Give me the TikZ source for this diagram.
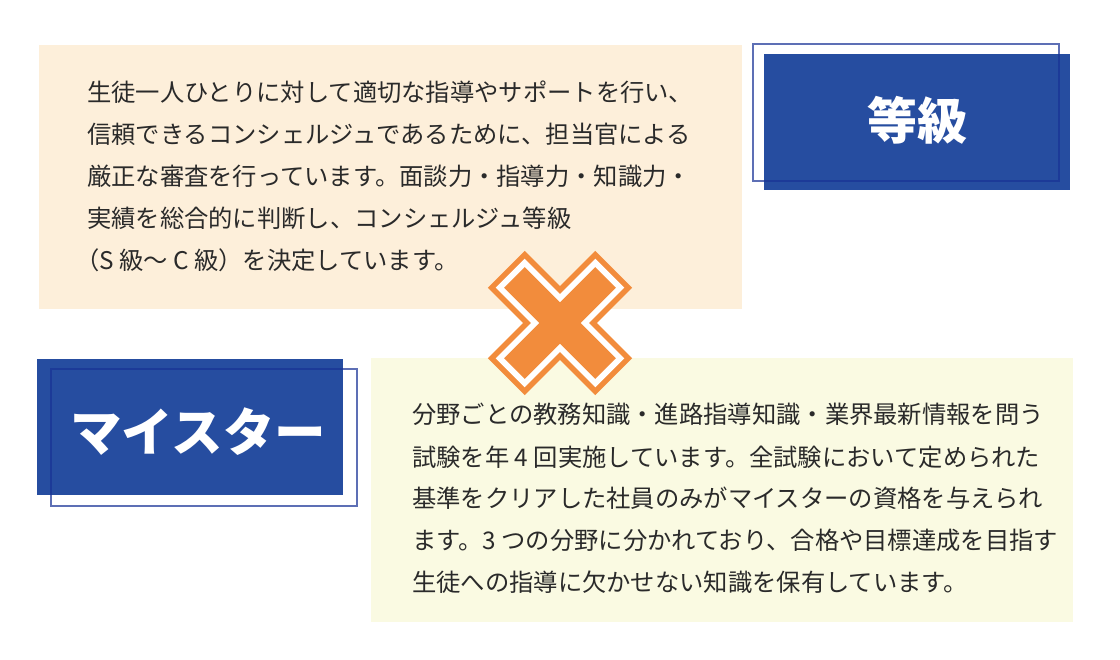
\documentclass[tikz,border=0pt]{standalone}
\usepackage{fontspec}
\newfontfamily\jp{Noto Sans CJK JP}
\definecolor{peach}{HTML}{FDEFDA}
\definecolor{cream}{HTML}{FAFAE2}
\definecolor{navy}{HTML}{264DA0}
\definecolor{navyline}{HTML}{193296}
\definecolor{xorange}{HTML}{F28C3C}
\definecolor{ink}{HTML}{2A2A2A}
\begin{document}
\begin{tikzpicture}[x=1pt,y=-1pt,
  body/.style={anchor=base west, inner sep=0pt, text=ink, font=\jp\fontsize{24.3}{30}\selectfont},
  titletext/.style={anchor=base, inner sep=0pt, text=white, font=\jp\bfseries\fontsize{50}{60}\selectfont},
  frameline/.style={draw=navyline, draw opacity=0.7, line width=1.4pt}]
\useasboundingbox (0,0) rectangle (1120,660);
\fill[white] (0,0) rectangle (1120,660);
% text panels
\coordinate (p1a) at (39,45); \coordinate (p1b) at (742,309);
\coordinate (p2a) at (371,358); \coordinate (p2b) at (1073,622);
\fill[peach] (p1a) rectangle (p1b);
\fill[cream] (p2a) rectangle (p2b);
% title boxes
\fill[navy] (764,54) rectangle (1070,190);
\draw[frameline] (753,44) rectangle (1059,181);
\fill[navy] (37,359) rectangle (343,495);
\draw[frameline] (51,369) rectangle (357,506);
\node[titletext] (tg) at (917,140) {等級};
\node[titletext, font=\jp\bfseries\fontsize{51.5}{60}\selectfont] (tm) at (198,452) {マイスター};
% cross
\coordinate (xc) at (560,323);
\foreach \w/\l/\c in {26/76/xorange, 20.5/70.5/white, 14.5/64.5/xorange}{
  \fill[\c, rotate around={45:(xc)}] (560-\l,323-\w) rectangle (560+\l,323+\w);
  \fill[\c, rotate around={-45:(xc)}] (560-\l,323-\w) rectangle (560+\l,323+\w);
}
% top text
\node[body] (t1) at (87,102) {生徒一人ひとりに対して適切な指導やサポートを行い、};
\node[body] (t2) at (87,144) {信頼できるコンシェルジュであるために、担当官による};
\node[body] (t3) at (87,186) {厳正な審査を行っています。面談力・指導力・知識力・};
\node[body] (t4) at (87,228) {実績を総合的に判断し、コンシェルジュ等級};
\node[body] (t5) at (87,270) {\kern-0.5em（S 級～ C 級）を決定しています。};
% bottom text
\node[body] (b1) at (412,424) {分野ごとの教務知識・進路指導知識・業界最新情報を問う};
\node[body] (b2) at (412,466) {試験を年 4 回実施しています。全試験において定められた};
\node[body] (b3) at (412,507.5) {基準をクリアした社員のみがマイスターの資格を与えられ};
\node[body] (b4) at (412,549) {ます。3 つの分野に分かれており、合格や目標達成を目指す};
\node[body] (b5) at (412,591) {生徒への指導に欠かせない知識を保有しています。};
\end{tikzpicture}
\end{document}
